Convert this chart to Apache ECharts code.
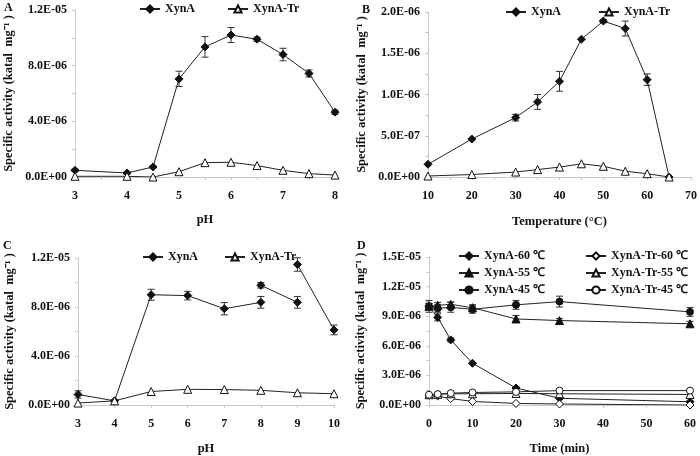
<!DOCTYPE html>
<html><head><meta charset="utf-8">
<script src="https://cdn.jsdelivr.net/npm/echarts@6/dist/echarts.min.js"></script>
<style>html,body{margin:0;padding:0;background:#fff}#c{width:700px;height:456px}</style>
</head><body><div id="c"></div>
<script>
// ---- Panel A: pH (XynA vs XynA-Tr)
var aX = [3, 4, 4.5, 5, 5.5, 6, 6.5, 7, 7.5, 8];
var aXynA = [0.48e-6, 0.29e-6, 0.72e-6, 7.05e-6, 9.35e-6, 10.2e-6, 9.9e-6, 8.8e-6, 7.44e-6, 4.66e-6];
var aXynAErr = [0.08e-6, 0.08e-6, 0.08e-6, 0.55e-6, 0.74e-6, 0.54e-6, 0.15e-6, 0.45e-6, 0.25e-6, 0.15e-6];
var aTr = [0.05e-6, 0.05e-6, 0.0, 0.38e-6, 1.03e-6, 1.06e-6, 0.82e-6, 0.48e-6, 0.24e-6, 0.14e-6];
// ---- Panel B: temperature
var bX = [10, 20, 30, 35, 40, 45, 50, 55, 60, 65];
var bXynA = [0.154e-6, 0.46e-6, 0.72e-6, 0.91e-6, 1.16e-6, 1.67e-6, 1.89e-6, 1.80e-6, 1.18e-6, 0];
var bXynAErr = [0, 0, 0.04e-6, 0.09e-6, 0.12e-6, 0, 0.02e-6, 0.09e-6, 0.07e-6, 0];
var bTr = [0.012e-6, 0.03e-6, 0.06e-6, 0.09e-6, 0.12e-6, 0.16e-6, 0.13e-6, 0.07e-6, 0.04e-6, 0];
// ---- Panel C: pH stability (null = line break)
var cXynAX = [3, 4, 5, 6, 7, 8, 8, 8, 9, 9, 9, 10];
var cXynA = [0.86e-6, 0.34e-6, 9.0e-6, 8.93e-6, 7.86e-6, 8.38e-6, null, 9.77e-6, 8.38e-6, null, 11.47e-6, 6.13e-6];
var cXynAErr = [0.3e-6, 0.1e-6, 0.45e-6, 0.35e-6, 0.5e-6, 0.48e-6, null, 0.22e-6, 0.48e-6, null, 0.55e-6, 0.4e-6];
var cTrX = [3, 4, 5, 6, 7, 8, 9, 10];
var cTr = [0.16e-6, 0.34e-6, 1.1e-6, 1.28e-6, 1.26e-6, 1.2e-6, 1.0e-6, 0.92e-6];
// ---- Panel D: thermostability over time
var dX = [0, 2, 5, 10, 20, 30, 60];
var dXynA60 = [10.0e-6, 8.88e-6, 6.6e-6, 4.23e-6, 1.72e-6, 0.68e-6, 0.33e-6];
var dXynA60Err = [0.6e-6, 0.35e-6, 0.2e-6, 0.1e-6, 0.1e-6, 0.05e-6, 0.05e-6];
var dXynA55 = [10.0e-6, 10.1e-6, 10.2e-6, 9.86e-6, 8.72e-6, 8.56e-6, 8.23e-6];
var dXynA55Err = [0.3e-6, 0.3e-6, 0.25e-6, 0.3e-6, 0.35e-6, 0.2e-6, 0.25e-6];
var dXynA45 = [10.0e-6, 9.8e-6, 9.9e-6, 9.7e-6, 10.15e-6, 10.48e-6, 9.44e-6];
var dXynA45Err = [0.3e-6, 0.4e-6, 0.5e-6, 0.4e-6, 0.45e-6, 0.55e-6, 0.45e-6];
var dTr60 = [1.0e-6, 0.9e-6, 0.65e-6, 0.36e-6, 0.16e-6, 0.1e-6, 0.0];
var dTr55 = [1.04e-6, 1.08e-6, 1.14e-6, 1.14e-6, 1.17e-6, 1.14e-6, 1.07e-6];
var dTr45 = [1.04e-6, 1.1e-6, 1.2e-6, 1.27e-6, 1.33e-6, 1.46e-6, 1.46e-6];

var FONT = 'Liberation Serif';
function sci(v) {
  if (Math.abs(v) < 1e-15) return '0.0E+00';
  var e = Math.floor(Math.log10(Math.abs(v)) + 1e-9);
  var m = v / Math.pow(10, e);
  var ms = m.toFixed(1);
  if (ms === '10.0') { e += 1; ms = '1.0'; }
  var es = (e < 0 ? '-' : '+') + (Math.abs(e) < 10 ? '0' : '') + Math.abs(e);
  return ms + 'E' + es;
}
function pts(xs, ys) {
  return xs.map(function (x, i) { return ys[i] === null ? [x, '-'] : [x, ys[i]]; });
}
function errPts(xs, ys, es) {
  var out = [];
  xs.forEach(function (x, i) { if (ys[i] !== null && es[i]) out.push([x, ys[i], es[i]]); });
  return out;
}
var axisLineStyle = { color: '#c8c8c8', width: 1 };
function xAx(idx, min, max, interval, name, gap, minorSplit) {
  return {
    type: 'value', gridIndex: idx, min: min, max: max, interval: interval,
    name: name, nameLocation: 'middle', nameGap: gap,
    nameTextStyle: { fontFamily: FONT, fontWeight: 'bold', fontSize: 12.5, color: '#111' },
    axisLine: { show: true, onZero: false, lineStyle: axisLineStyle },
    axisTick: { show: true, length: 3, lineStyle: axisLineStyle },
    minorTick: { show: !!minorSplit, splitNumber: minorSplit || 2, length: 3, lineStyle: axisLineStyle },
    splitLine: { show: false },
    axisLabel: { fontFamily: FONT, fontWeight: 'bold', fontSize: 12, color: '#111', margin: 13 }
  };
}
function yAx(idx, max, interval, gap) {
  return {
    type: 'value', gridIndex: idx, min: 0, max: max, interval: interval,
    name: 'Specific activity (katal  mg\u207B\u00B9 )', nameLocation: 'middle', nameGap: gap, nameRotate: 90,
    nameTextStyle: { fontFamily: FONT, fontWeight: 'bold', fontSize: 12.5, color: '#111' },
    axisLine: { show: true, lineStyle: axisLineStyle },
    axisTick: { show: true, length: 3, lineStyle: axisLineStyle },
    minorTick: { show: true, splitNumber: 2, length: 3, lineStyle: axisLineStyle },
    splitLine: { show: false },
    axisLabel: { fontFamily: FONT, fontWeight: 'bold', fontSize: 12, color: '#111', margin: 8, formatter: sci }
  };
}
function lineS(name, idx, data, symbol, filled, size) {
  return {
    type: 'line', name: name, xAxisIndex: idx, yAxisIndex: idx, data: data,
    symbol: symbol, symbolSize: size || 8, showSymbol: true, connectNulls: false,
    lineStyle: { color: '#222', width: 1 },
    itemStyle: { color: filled ? '#111' : '#fff', borderColor: '#111', borderWidth: 1 },
    z: 3, animation: false
  };
}
function errS(idx, data) {
  return {
    type: 'custom', xAxisIndex: idx, yAxisIndex: idx, data: data, z: 2, silent: true, animation: false,
    renderItem: function (params, api) {
      var x = api.value(0), y = api.value(1), e = api.value(2);
      var top = api.coord([x, y + e]), bot = api.coord([x, y - e]);
      var w = 3.5, s = { stroke: '#333', lineWidth: 1 };
      return { type: 'group', children: [
        { type: 'line', shape: { x1: top[0], y1: top[1], x2: bot[0], y2: bot[1] }, style: s },
        { type: 'line', shape: { x1: top[0] - w, y1: top[1], x2: top[0] + w, y2: top[1] }, style: s },
        { type: 'line', shape: { x1: bot[0] - w, y1: bot[1], x2: bot[0] + w, y2: bot[1] }, style: s }
      ] };
    }
  };
}
var legText = { fontFamily: FONT, fontWeight: 'bold', fontSize: 12, color: '#111' };
function leg(names, left, top, orient, gap) {
  return { data: names, left: left, top: top, orient: orient || 'horizontal', itemGap: gap, itemWidth: 20, itemHeight: 9,
    textStyle: legText, padding: 0, selectedMode: false };
}
function lab(t, x, y) {
  return { type: 'text', left: x, top: y, style: { text: t, font: 'bold 12px "Liberation Serif"', fill: '#111' } };
}

var option = {
  backgroundColor: '#fff',
  animation: false,
  grid: [
    { left: 75, top: 10, width: 260, height: 167 },
    { left: 428, top: 12, width: 264, height: 165 },
    { left: 78, top: 258, width: 256, height: 153 },
    { left: 429, top: 257, width: 261, height: 154 }
  ],
  xAxis: [
    xAx(0, 3, 8, 1, 'pH', 36, 2),
    xAx(1, 10, 70, 10, 'Temperature (\u00B0C)', 38, 2),
    xAx(2, 3, 10, 1, 'pH', 37, 0),
    xAx(3, 0, 60, 10, 'Time (min)', 37, 0)
  ],
  yAxis: [
    yAx(0, 1.2e-5, 4e-6, 60),
    yAx(1, 2e-6, 5e-7, 60),
    yAx(2, 1.2e-5, 4e-6, 62),
    yAx(3, 1.5e-5, 3e-6, 62)
  ],
  legend: [
    leg(['XynA', 'XynA-Tr'], 139, 3, 'horizontal', 32),
    leg(['XynA ', 'XynA-Tr '], 505, 6, 'horizontal', 34),
    leg(['XynA  ', 'XynA-Tr  '], 142, 251, 'horizontal', 20),
    leg(['XynA-60 \u2103', 'XynA-55 \u2103', 'XynA-45 \u2103'], 458, 250, 'vertical', 5),
    leg(['XynA-Tr-60 \u2103', 'XynA-Tr-55 \u2103', 'XynA-Tr-45 \u2103'], 585, 250, 'vertical', 5)
  ],
  graphic: [lab('A', 4, 2), lab('B', 362, 4), lab('C', 3, 240), lab('D', 357, 240)],
  series: [
    errS(0, errPts(aX, aXynA, aXynAErr)),
    lineS('XynA', 0, pts(aX, aXynA), 'diamond', true, 8),
    lineS('XynA-Tr', 0, pts(aX, aTr), 'triangle', false, 8),
    errS(1, errPts(bX, bXynA, bXynAErr)),
    lineS('XynA ', 1, pts(bX, bXynA), 'diamond', true, 8),
    lineS('XynA-Tr ', 1, pts(bX, bTr), 'triangle', false, 8),
    errS(2, errPts(cXynAX, cXynA, cXynAErr)),
    lineS('XynA  ', 2, pts(cXynAX, cXynA), 'diamond', true, 8),
    lineS('XynA-Tr  ', 2, pts(cTrX, cTr), 'triangle', false, 8),
    errS(3, errPts(dX, dXynA60, dXynA60Err)),
    errS(3, errPts(dX, dXynA55, dXynA55Err)),
    errS(3, errPts(dX, dXynA45, dXynA45Err)),
    lineS('XynA-60 \u2103', 3, pts(dX, dXynA60), 'diamond', true, 8),
    lineS('XynA-55 \u2103', 3, pts(dX, dXynA55), 'triangle', true, 8),
    lineS('XynA-45 \u2103', 3, pts(dX, dXynA45), 'circle', true, 7),
    lineS('XynA-Tr-60 \u2103', 3, pts(dX, dTr60), 'diamond', false, 8),
    lineS('XynA-Tr-55 \u2103', 3, pts(dX, dTr55), 'triangle', false, 8),
    lineS('XynA-Tr-45 \u2103', 3, pts(dX, dTr45), 'circle', false, 7)
  ]
};
var chart = echarts.init(document.getElementById('c'), null, { renderer: 'canvas' });
chart.setOption(option);
</script></body></html>
